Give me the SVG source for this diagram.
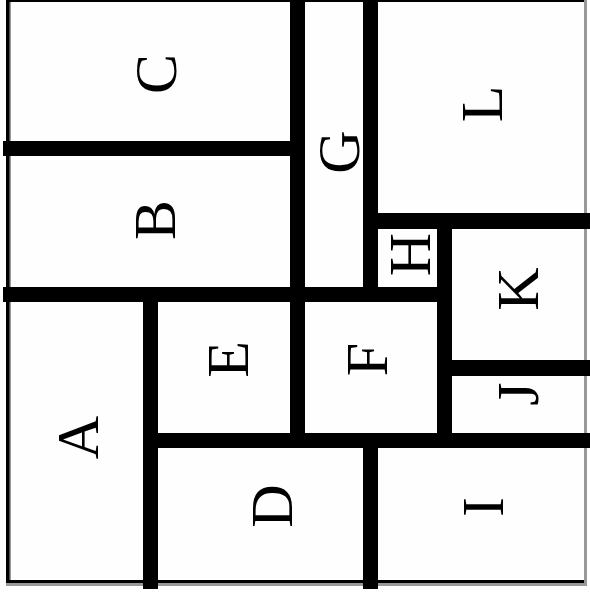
<svg xmlns="http://www.w3.org/2000/svg" width="590" height="592" viewBox="0 0 590 592">
  <style>
    .wall { fill: #000; }
    .room { fill: #fefefe; }
    .lbl { font-family: "Liberation Serif", "Times New Roman", serif; font-size: 60px; fill: #000; text-anchor: middle; }
  </style>
  <rect x="0" y="0" width="590" height="592" fill="#fff"/>
  <g id="rooms">
    <g id="room-C"><rect class="room" x="10" y="2" width="280" height="139"/><text class="lbl" transform="translate(176,74) rotate(-90)">C</text></g>
    <g id="room-B"><rect class="room" x="10" y="156" width="280" height="131"/><text class="lbl" transform="translate(175,220) rotate(-90)">B</text></g>
    <g id="room-G"><rect class="room" x="305" y="2" width="58" height="285"/><text class="lbl" transform="translate(359,152) rotate(-90)">G</text></g>
    <g id="room-L"><rect class="room" x="378" y="2" width="206" height="211"/><text class="lbl" transform="translate(502,104) rotate(-90)">L</text></g>
    <g id="room-H"><rect class="room" x="378" y="229" width="59" height="58"/><text class="lbl" transform="translate(430,254.5) rotate(-90)">H</text></g>
    <g id="room-K"><rect class="room" x="452" y="229" width="132" height="131"/><text class="lbl" transform="translate(538,289) rotate(-90)">K</text></g>
    <g id="room-A"><rect class="room" x="10" y="302" width="133" height="278"/><text class="lbl" transform="translate(98,437.5) rotate(-90)">A</text></g>
    <g id="room-E"><rect class="room" x="158" y="302" width="132" height="131"/><text class="lbl" transform="translate(248,359.5) rotate(-90)">E</text></g>
    <g id="room-F"><rect class="room" x="305" y="302" width="132" height="131"/><text class="lbl" transform="translate(387,359.5) rotate(-90)">F</text></g>
    <g id="room-J"><rect class="room" x="452" y="376" width="132" height="57"/><text class="lbl" transform="translate(538,394) rotate(-90)">J</text></g>
    <g id="room-D"><rect class="room" x="158" y="448" width="205" height="132"/><text class="lbl" transform="translate(292,506) rotate(-90)">D</text></g>
    <g id="room-I"><rect class="room" x="378" y="448" width="206" height="132"/><text class="lbl" transform="translate(503,507) rotate(-90)">I</text></g>
  </g>
  <g id="walls">
    <rect class="wall" x="6" y="0" width="581" height="2"/>
    <rect class="wall" x="6" y="0" width="4" height="583"/>
    <rect x="9.5" y="2" width="1.5" height="578" fill="#999"/>
    <rect class="wall" x="6" y="580" width="581" height="3"/>
    <rect x="6" y="583" width="581" height="3" fill="#999"/>
    <rect x="584" y="0" width="3" height="586" fill="#999"/>
    <rect class="wall" x="3" y="141" width="287" height="15"/>
    <rect class="wall" x="290" y="0" width="15" height="448"/>
    <rect class="wall" x="3" y="287" width="449" height="15"/>
    <rect class="wall" x="363" y="0" width="15" height="302"/>
    <rect class="wall" x="363" y="213" width="227" height="16"/>
    <rect class="wall" x="437" y="213" width="15" height="235"/>
    <rect class="wall" x="437" y="360" width="153" height="16"/>
    <rect class="wall" x="143" y="287" width="15" height="302"/>
    <rect class="wall" x="143" y="433" width="447" height="15"/>
    <rect class="wall" x="363" y="433" width="15" height="156"/>
  </g>
</svg>
